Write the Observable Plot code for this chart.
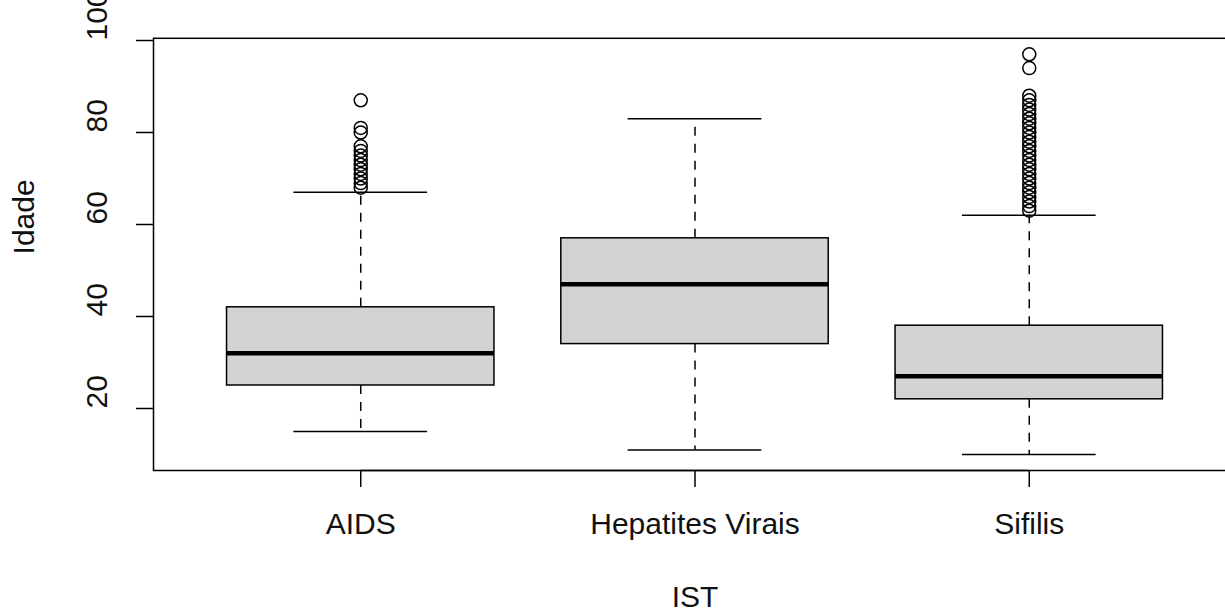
<!DOCTYPE html>
<html><head><meta charset="utf-8">
<script src="https://cdn.jsdelivr.net/npm/d3@7"></script>
<script src="https://cdn.jsdelivr.net/npm/@observablehq/plot@0.6"></script>
<style>
html,body{margin:0;padding:0;background:#fff;overflow:hidden;}
svg{max-width:none !important;display:block;}
</style>
</head><body><div id="chart"></div>
<script>
const categories = ["AIDS", "Hepatites Virais", "Sifilis"];
const whiskerLow  = [15, 11, 10];
const q1          = [25, 34, 22];
const median      = [32, 47, 27];
const q3          = [42, 57, 38];
const whiskerHigh = [67, 83, 62];
const outliersAIDS = [68, 69, 70, 71, 72, 73, 74, 75, 76, 77, 80, 81, 87];
const outliersHepatites = [];
const outliersSifilis = [63, 64, 65, 66, 67, 68, 69, 70, 71, 72, 73, 74, 75, 76, 77, 78, 79, 80, 81, 82, 83, 84, 85, 86, 87, 88, 94, 97];
const yTicks = [20, 40, 60, 80, 100];
const xTicks = [1, 2, 3];
const yDomain = [6.52, 100.48];
const xDomain = [0.38, 3.62];

const boxes = categories.map((c, k) => ({
  cat: c, i: k + 1, lo: whiskerLow[k], q1: q1[k], med: median[k], q3: q3[k], hi: whiskerHigh[k]
}));
const outlierLists = [outliersAIDS, outliersHepatites, outliersSifilis];
const outliers = outlierLists.flatMap((arr, k) => arr.map(v => ({i: k + 1, v})));

const font = "Liberation Sans, Arial, Helvetica, sans-serif";
const fs = 30;
const lw = 1.5;

const chart = Plot.plot({
  width: 1225,
  height: 612,
  marginLeft: 153,
  marginRight: -11,
  marginTop: 37.8,
  marginBottom: 142,
  style: {fontFamily: font, background: "white", color: "black"},
  x: {type: "linear", domain: xDomain, axis: null},
  y: {type: "linear", domain: yDomain, axis: null},
  marks: [
    Plot.ruleX(boxes, {x: "i", y1: "q3", y2: "hi", stroke: "black", strokeWidth: lw, strokeDasharray: "9,8"}),
    Plot.ruleX(boxes, {x: "i", y1: "q1", y2: "lo", stroke: "black", strokeWidth: lw, strokeDasharray: "9,8"}),
    Plot.ruleY(boxes, {y: "hi", x1: d => d.i - 0.2, x2: d => d.i + 0.2, stroke: "black", strokeWidth: lw}),
    Plot.ruleY(boxes, {y: "lo", x1: d => d.i - 0.2, x2: d => d.i + 0.2, stroke: "black", strokeWidth: lw}),
    Plot.rect(boxes, {x1: d => d.i - 0.4, x2: d => d.i + 0.4, y1: "q1", y2: "q3", fill: "#d3d3d3", stroke: "black", strokeWidth: lw}),
    Plot.ruleY(boxes, {y: "med", x1: d => d.i - 0.4, x2: d => d.i + 0.4, stroke: "black", strokeWidth: 4.5}),
    Plot.dot(outliers, {x: "i", y: "v", r: 6.5, stroke: "black", fill: "none", strokeWidth: lw}),
    Plot.frame({stroke: "black", strokeWidth: lw}),
    Plot.ruleY([yDomain[0]], {x1: xTicks[0], x2: xTicks[xTicks.length - 1], stroke: "black", strokeWidth: lw}),
    Plot.axisY({ticks: yTicks, tickSize: 17, tickFormat: () => "", label: null, stroke: "black", strokeWidth: lw}),
    Plot.axisX({ticks: xTicks, tickSize: 17, tickFormat: () => "", label: null, stroke: "black", strokeWidth: lw}),
    Plot.text(yTicks, {y: d => d, text: d => String(d), frameAnchor: "left", dx: -56, rotate: -90, fontSize: fs, fill: "#111"}),
    Plot.text(categories, {x: (d, k) => xTicks[k], text: d => d, frameAnchor: "bottom", dy: 63, fontSize: fs, fill: "#111"}),
    Plot.text(["Idade"], {frameAnchor: "left", dx: -129, rotate: -90, fontSize: fs, fill: "#111"}),
    Plot.text(["IST"], {frameAnchor: "bottom", dy: 136, fontSize: fs, fill: "#111"})
  ]
});
document.getElementById("chart").appendChild(chart);
</script>
</body></html>
